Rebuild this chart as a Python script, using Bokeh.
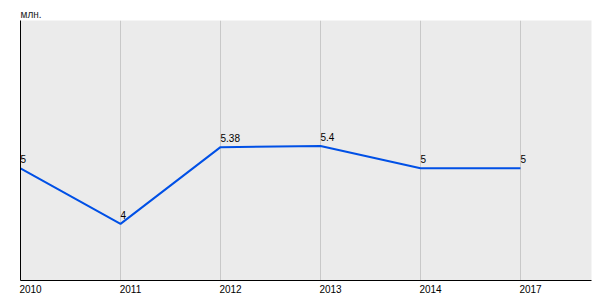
from bokeh.plotting import figure
from bokeh.models import Range1d, FixedTicker, ColumnDataSource, LabelSet, LinearAxis
from bokeh.core.properties import value
from bokeh.embed import file_html
from bokeh.resources import INLINE

years = ["2010", "2011", "2012", "2013", "2014", "2017"]
values = [5, 4, 5.38, 5.4, 5, 5]
value_labels = ["5", "4", "5.38", "5.4", "5", "5"]
unit = "млн."

FONT = "Liberation Sans"
xs = list(range(len(years)))
y_lo, y_hi = 2.98, 7.66
x_lo, x_hi = 0, 5.71
shift = 0.1  # labels start at the grid line (left-aligned look)

p = figure(width=600, height=300, output_backend="svg", toolbar_location=None,
           x_range=Range1d(x_lo, x_hi), y_range=Range1d(y_lo, y_hi),
           x_axis_location=None,
           min_border_left=20, min_border_right=9, min_border_top=20,
           min_border_bottom=20, title=unit)
p.extra_x_ranges = {"lbl": Range1d(x_lo - shift, x_hi - shift)}
p.title.text_font = FONT
p.title.text_font_size = "10px"
p.title.text_font_style = "normal"
p.title.text_color = "#222222"
p.title.align = "left"
p.title.standoff = 2

p.background_fill_color = "#ebebeb"
p.border_fill_color = "white"
p.outline_line_color = None

p.xgrid.ticker = FixedTicker(ticks=xs)
p.xgrid.grid_line_color = "#c8c8c8"
p.ygrid.grid_line_color = None

xaxis = LinearAxis(x_range_name="lbl", ticker=FixedTicker(ticks=xs),
                   major_label_overrides={i: y for i, y in zip(xs, years)})
xaxis.major_label_text_font = FONT
xaxis.major_label_text_font_size = "10px"
xaxis.major_label_text_color = "black"
xaxis.major_tick_line_color = None
xaxis.minor_tick_line_color = None
xaxis.major_tick_out = 0
xaxis.major_tick_in = 0
xaxis.major_label_standoff = 4
xaxis.axis_line_color = "black"
p.add_layout(xaxis, "below")

ya = p.yaxis[0]
ya.ticker = FixedTicker(ticks=[])
ya.major_tick_line_color = None
ya.minor_tick_line_color = None
ya.major_tick_out = 0
ya.axis_line_color = "black"

src = ColumnDataSource(dict(x=xs, y=values, lab=value_labels))
p.line("x", "y", source=src, line_color="#0050e6", line_width=2)

p.add_layout(LabelSet(x="x", y="y", text="lab", source=src, text_font=value(FONT),
                      text_font_size="10px", text_color="black", text_align="left",
                      text_baseline="bottom", y_offset=5))

open("out.html", "w").write(file_html(p, INLINE))
